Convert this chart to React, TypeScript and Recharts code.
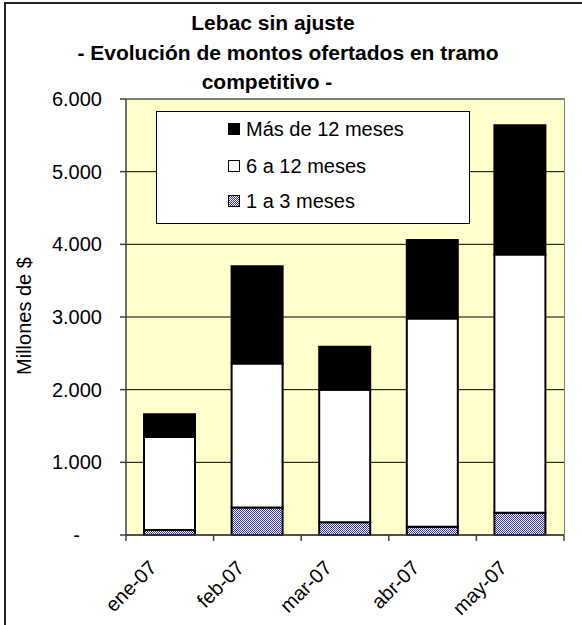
import React from "react";
import { BarChart, Bar, XAxis, YAxis, CartesianGrid } from "recharts";

const months = ["ene-07", "feb-07", "mar-07", "abr-07", "may-07"];
const corto = [70, 380, 175, 115, 305]; // 1 a 3 meses
const medio = [1280, 1980, 1825, 2865, 3555]; // 6 a 12 meses
const largo = [310, 1340, 590, 1080, 1780]; // Más de 12 meses
const yTicks = [0, 1000, 2000, 3000, 4000, 5000, 6000];
const titleLines = ["Lebac sin ajuste", "- Evolución de montos ofertados en tramo", "competitivo -"];
const yLabel = "Millones de $";

const seriesNames = { corto: "1 a 3 meses", medio: "6 a 12 meses", largo: "Más de 12 meses" };

const data = months.map((m, i) => ({ month: m, corto: corto[i], medio: medio[i], largo: largo[i] }));

const FONT = "'Liberation Sans', Arial, sans-serif";

const fmt = (v: number) => (v === 0 ? "-" : v.toString().replace(/\B(?=(\d{3})+(?!\d))/g, "."));

const YTick = (props: any) => {
  const { x, y, payload } = props;
  const isZero = payload.value === 0;
  return (
    <text x={isZero ? x - 22 : x} y={y} dy="0.355em" textAnchor="end" fontSize={20} fill="#000" fontFamily={FONT}>
      {fmt(payload.value)}
    </text>
  );
};

const XTick = (props: any) => {
  const { x, y, payload, index, width, visibleTicksCount } = props;
  const band = width && visibleTicksCount ? width / visibleTicksCount : 87.6;
  const lx = x - 12;
  const ly = y + 34;
  return (
    <g>
      <line x1={x - band / 2} x2={x - band / 2} y1={y} y2={y + 6} stroke="#404040" strokeWidth={1.5} />
      {index === (visibleTicksCount || 5) - 1 && (
        <line x1={x + band / 2} x2={x + band / 2} y1={y} y2={y + 6} stroke="#404040" strokeWidth={1.5} />
      )}
      <text x={lx} y={ly} textAnchor="end" fontSize={20} fill="#000" fontFamily={FONT} transform={`rotate(-45 ${lx} ${ly})`}>
        {payload.value}
      </text>
    </g>
  );
};

const legendItems = [
  { name: seriesNames.largo, fill: "#000000", top: 129 },
  { name: seriesNames.medio, fill: "#ffffff", top: 166 },
  { name: seriesNames.corto, fill: "url(#checkBlue)", top: 201 },
];

export default function App() {
  return (
    <div style={{ position: "absolute", left: 0, top: 0, width: 582, height: 625, overflow: "hidden", background: "#fff", fontFamily: FONT }}>
      <svg width={0} height={0} style={{ position: "absolute" }}>
        <defs>
          <pattern id="checkBlue" width={2} height={2} patternUnits="userSpaceOnUse">
            <rect width={2} height={2} fill="#ffffff" />
            <rect width={1} height={1} fill="#3333cc" />
            <rect x={1} y={1} width={1} height={1} fill="#3333cc" />
          </pattern>
        </defs>
      </svg>
      <div style={{ position: "absolute", left: 4, top: 2, width: 700, height: 700, border: "2px solid #222" }} />
      <div style={{ position: "absolute", left: 0, top: 0 }}>
        <BarChart width={582} height={625} data={data} margin={{ top: 99, right: 18, bottom: 30, left: 66 }} barSize={51}>
          <CartesianGrid vertical={false} stroke="#000" fill="#ffffcc" fillOpacity={1} />
          <XAxis
            dataKey="month"
            interval={0}
            height={60}
            tickLine={false}
            tickSize={0}
            tickMargin={0}
            axisLine={{ stroke: "#404040", strokeWidth: 1.5 }}
            tick={<XTick />}
          />
          <YAxis
            domain={[0, 6000]}
            ticks={yTicks}
            interval={0}
            width={60}
            tickSize={6}
            tickMargin={18}
            axisLine={{ stroke: "#404040", strokeWidth: 1.5 }}
            tickLine={{ stroke: "#404040", strokeWidth: 1.5 }}
            tick={<YTick />}
          />
          <Bar dataKey="corto" name={seriesNames.corto} stackId="a" fill="url(#checkBlue)" stroke="#000" strokeWidth={2} isAnimationActive={false} />
          <Bar dataKey="medio" name={seriesNames.medio} stackId="a" fill="#ffffff" stroke="#000" strokeWidth={2} isAnimationActive={false} />
          <Bar dataKey="largo" name={seriesNames.largo} stackId="a" fill="#000000" stroke="#000" strokeWidth={2} isAnimationActive={false} />
        </BarChart>
      </div>
      {/* plot area border (top/right) */}
      <div style={{ position: "absolute", left: 126, top: 98, width: 438, height: 437, borderTop: "1.5px solid #808080", borderRight: "1.5px solid #808080", pointerEvents: "none" }} />
      {/* legend */}
      <div style={{ position: "absolute", left: 156, top: 111, width: 312, height: 111, border: "1px solid #000", background: "#fff" }} />
      {legendItems.map((it) => (
        <div key={it.name} style={{ position: "absolute", left: 228, top: it.top - 12, height: 24, display: "flex", alignItems: "center", fontSize: 20, color: "#000", whiteSpace: "nowrap" }}>
          <svg width={12} height={12} style={{ marginRight: 6 }}>
            <rect x={0.5} y={0.5} width={11} height={11} fill={it.fill} stroke="#000" strokeWidth={1} />
          </svg>
          <span>{it.name}</span>
        </div>
      ))}
      <svg width={582} height={625} style={{ position: "absolute", left: 0, top: 0, pointerEvents: "none" }}>
        <text x={273} y={30} textAnchor="middle" fontSize={21} fontWeight="bold" fontFamily={FONT}>{titleLines[0]}</text>
        <text x={288} y={60} textAnchor="middle" fontSize={21} fontWeight="bold" fontFamily={FONT}>{titleLines[1]}</text>
        <text x={267} y={89} textAnchor="middle" fontSize={21} fontWeight="bold" fontFamily={FONT}>{titleLines[2]}</text>
        <text x={24} y={316} textAnchor="middle" dominantBaseline="central" fontSize={20} fontFamily={FONT} transform="rotate(-90 24 316)">{yLabel}</text>
      </svg>
    </div>
  );
}
